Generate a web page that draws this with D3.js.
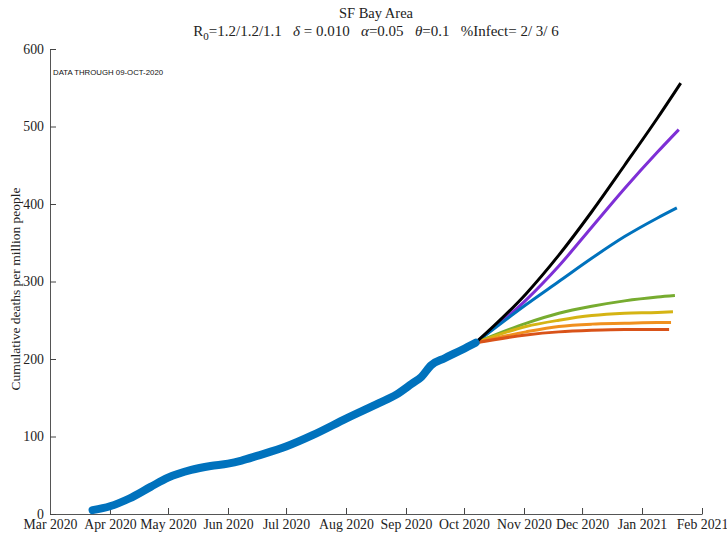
<!DOCTYPE html>
<html><head><meta charset="utf-8">
<script src="https://cdn.jsdelivr.net/npm/d3@7"></script>
<style>body{margin:0;background:#fff}svg{display:block}</style>
</head><body>
<script>
const titleText = "SF Bay Area";
const yLabel = "Cumulative deaths per million people";
const dataNote = "DATA THROUGH 09-OCT-2020";
const xTickDates = ["2020-03-01","2020-04-01","2020-05-01","2020-06-01","2020-07-01","2020-08-01","2020-09-01","2020-10-01","2020-11-01","2020-12-01","2021-01-01","2021-02-01"];
const yTicks = [0,100,200,300,400,500,600];

const histDates = ["2020-03-23","2020-04-01","2020-04-11","2020-04-22","2020-05-01","2020-05-13","2020-05-23","2020-06-01","2020-06-08","2020-06-16","2020-07-01","2020-07-15","2020-08-01","2020-08-18","2020-08-27","2020-09-04","2020-09-09","2020-09-14","2020-09-21","2020-09-30","2020-10-07"];
const histValues = [5,10,20,35,47,57,62,65,69,75,87,102,123,143,154,168,177,192,201,212,221];

const projDates = ["2020-10-07","2020-11-02","2020-11-19","2020-12-06","2020-12-23","2021-01-09"];
const projNames = ["black","purple","blue","green","yellow","orange","red"];
const projColors = ["#000000","#7E2FD6","#0072BD","#77AC30","#D5B414","#F0901F","#D95319"];
const projEndDates = ["2021-01-21","2021-01-20","2021-01-19","2021-01-18","2021-01-17","2021-01-16","2021-01-15"];
const projBlack  = [221,284,334,390,450,511,556];
const projPurple = [221,276,320,370,420,467,496];
const projBlue   = [221,270,300,330,358,382,395];
const projGreen  = [221,246,259,268,275,280,282];
const projYellow = [221,242,250,256,259,260,261];
const projOrange = [221,235,242,245,246,247,247];
const projRed    = [221,231,235,237,238,238,238];
const projValues = [projBlack,projPurple,projBlue,projGreen,projYellow,projOrange,projRed];

const W=727,H=535;
const m={l:50,r:25,t:49,b:21};
const parse=d3.utcParse("%Y-%m-%d");
const svg=d3.select("body").append("svg").attr("width",W).attr("height",H);
const x=d3.scaleUtc().domain([parse("2020-03-01"),parse("2021-02-01")]).range([m.l,W-m.r]);
const y=d3.scaleLinear().domain([0,600]).range([H-m.b,m.t]);
const serif="'Liberation Serif','Times New Roman',serif";

// axes
const fmt=d3.utcFormat("%b %Y");
const xAxis=svg.append("g").attr("transform",`translate(0,${H-m.b})`)
  .call(d3.axisBottom(x).tickValues(xTickDates.map(parse)).tickFormat(fmt).tickSizeInner(-6).tickSizeOuter(0).tickPadding(5));
const yAxis=svg.append("g").attr("transform",`translate(${m.l},0)`)
  .call(d3.axisLeft(y).tickValues(yTicks).tickSizeInner(-6).tickSizeOuter(0).tickPadding(6));
[xAxis,yAxis].forEach(g=>{
  g.selectAll("path.domain").attr("stroke","#555");
  g.selectAll(".tick line").attr("stroke","#444");
  g.selectAll("text").attr("font-family",serif).attr("font-size","13.8px").attr("fill","#222");
});
xAxis.selectAll("text").attr("dy","0.71em");

// lines
const line=d3.line().x(d=>x(d[0])).y(d=>y(d[1])).curve(d3.curveMonotoneX);
projValues.forEach((vals,i)=>{
  const dates=projDates.concat([projEndDates[i]]).map(parse);
  const pts=vals.map((v,j)=>[dates[j],v]);
  svg.append("path").datum(pts).attr("d",line).attr("fill","none")
    .attr("stroke",projColors[i]).attr("stroke-width",3).attr("class","proj-"+projNames[i]);
});
svg.selectAll("path.proj-black").raise();
const hist=histDates.map((d,i)=>[parse(d),histValues[i]]);
svg.append("path").datum(hist).attr("d",line).attr("fill","none")
  .attr("stroke","#0072BD").attr("stroke-width",8).attr("stroke-linecap","round").attr("stroke-linejoin","round");

// texts
const cx=(m.l+W-m.r)/2;
svg.append("text").attr("x",cx).attr("y",18).attr("text-anchor","middle")
  .attr("font-family",serif).attr("font-size","14.5px").attr("fill","#222").text(titleText);
const t2=svg.append("text").attr("x",cx).attr("y",36).attr("text-anchor","middle")
  .attr("font-family",serif).attr("font-size","15px").attr("fill","#222").attr("xml:space","preserve");
t2.append("tspan").text("R");
t2.append("tspan").attr("font-size","11px").attr("dy","4").text("0");
t2.append("tspan").attr("dy","-4").text("=1.2/1.2/1.1   ");
t2.append("tspan").attr("font-style","italic").text("δ");
t2.append("tspan").text(" = 0.010   ");
t2.append("tspan").attr("font-style","italic").text("α");
t2.append("tspan").text("=0.05   ");
t2.append("tspan").attr("font-style","italic").text("θ");
t2.append("tspan").text("=0.1   %Infect= 2/ 3/ 6");

svg.append("text").attr("transform",`translate(20,289) rotate(-90)`)
  .attr("text-anchor","middle").attr("font-family",serif).attr("font-size","13.5px").attr("fill","#222").text(yLabel);
svg.append("text").attr("x",53).attr("y",75).attr("font-family","'Liberation Sans',Arial,sans-serif")
  .attr("font-size","7.8px").attr("fill","#111").text(dataNote);
</script>
</body></html>
